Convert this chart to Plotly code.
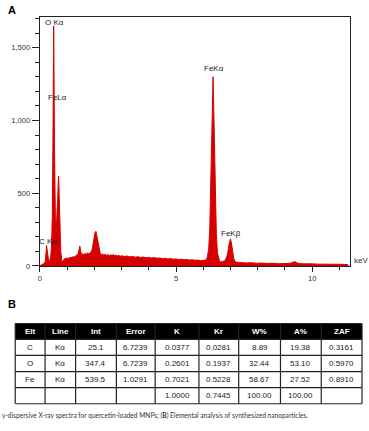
import plotly.graph_objects as go

# ---- Spectrum data ----
energy_kev = [0.00, 0.05, 0.10, 0.15, 0.20, 0.23, 0.25, 0.27, 0.30, 0.33, 0.36, 0.40, 0.43, 0.46,
              0.48, 0.50, 0.51, 0.52, 0.54, 0.56, 0.58, 0.60, 0.63, 0.66, 0.68, 0.69, 0.70, 0.72,
              0.74, 0.77, 0.80, 0.83, 0.87, 0.90, 0.95, 1.00, 1.05, 1.10, 1.15, 1.20, 1.25, 1.30,
              1.35, 1.40, 1.44, 1.47, 1.50, 1.54, 1.58, 1.62, 1.66, 1.70, 1.75, 1.80, 1.85, 1.90,
              1.94, 1.98, 2.02, 2.06, 2.10, 2.14, 2.18, 2.22, 2.26, 2.30, 2.35, 2.40, 2.45, 2.50,
              2.55, 2.60, 2.65, 2.70, 2.75, 2.80, 2.85, 2.90, 2.95, 3.00, 3.10, 3.20, 3.30, 3.40,
              3.50, 3.60, 3.70, 3.80, 3.90, 4.00, 4.10, 4.20, 4.30, 4.40, 4.50, 4.60, 4.70, 4.80,
              4.90, 5.00, 5.10, 5.20, 5.30, 5.40, 5.50, 5.60, 5.70, 5.80, 5.90, 6.00, 6.05, 6.10,
              6.15, 6.20, 6.24, 6.28, 6.32, 6.36, 6.40, 6.44, 6.48, 6.52, 6.56, 6.60, 6.65, 6.70,
              6.75, 6.80, 6.85, 6.90, 6.95, 7.00, 7.04, 7.08, 7.12, 7.16, 7.20, 7.30, 7.40, 7.50,
              7.60, 7.70, 7.80, 7.90, 8.00, 8.10, 8.20, 8.30, 8.40, 8.50, 8.60, 8.70, 8.80, 8.90,
              9.00, 9.10, 9.20, 9.30, 9.38, 9.45, 9.55, 9.70, 9.80, 9.90, 10.00, 10.20, 10.40,
              10.60, 10.80, 11.00, 11.20, 11.30, 11.32]
counts = [0, 8, 12, 14, 30, 90, 140, 110, 45, 28, 35, 60, 130, 350,
          800, 1400, 1650, 1400, 800, 380, 220, 235, 330, 480, 590, 617, 560, 420,
          240, 100, 45, 28, 38, 48, 52, 55, 50, 58, 56, 62, 60, 66,
          70, 80, 110, 136, 100, 78, 82, 76, 86, 80, 88, 82, 92, 100,
          130, 180, 225, 238, 200, 140, 100, 85, 78, 82, 74, 80, 72, 78,
          70, 76, 72, 78, 70, 74, 68, 72, 66, 70, 64, 68, 62, 65,
          60, 63, 58, 61, 56, 59, 54, 57, 52, 55, 50, 53, 48, 50,
          46, 48, 44, 46, 42, 44, 40, 42, 38, 40, 36, 38, 36, 40,
          60, 120, 260, 550, 950, 1300, 950, 520, 220, 90, 45, 30, 26, 28,
          30, 36, 55, 90, 150, 186, 150, 90, 50, 32, 26, 24, 22, 24,
          20, 22, 19, 21, 18, 20, 17, 19, 16, 18, 15, 17, 15, 16,
          14, 16, 18, 26, 28, 20, 15, 14, 15, 13, 14, 12, 13,
          11, 12, 11, 10, 9, 0]

# peak labels
peak_labels = ["O K\u03b1", "FeL\u03b1", "FeK\u03b1", "FeK\u03b2", "C K\u03b1"]
peak_label_x = [0.548, 0.650, 6.40, 7.02, 0.285]
peak_label_y = [1674, 1156, 1357, 226, 168]

# axis ticks
x_tickvals = [0, 5, 10]
x_ticktext = ["0", "5", "10"]
y_tickvals = [0, 500, 1000, 1500]
y_ticktext = ["0", "500", "1,000", "1,500"]

# ---- Table data ----
tbl_header = ["Elt", "Line", "Int", "Error", "K", "Kr", "W%", "A%", "ZAF"]
col_elt = ["C", "O", "Fe", ""]
col_line = ["K\u03b1", "K\u03b1", "K\u03b1", ""]
col_int = ["25.1", "347.4", "539.5", ""]
col_error = ["6.7239", "6.7239", "1.0291", ""]
col_k = ["0.0377", "0.2601", "0.7021", "1.0000"]
col_kr = ["0.0281", "0.1937", "0.5228", "0.7445"]
col_w = ["8.89", "32.44", "58.67", "100.00"]
col_a = ["19.38", "53.10", "27.52", "100.00"]
col_zaf = ["0.3161", "0.5970", "0.8910", ""]
table_columns = [col_elt, col_line, col_int, col_error, col_k, col_kr, col_w, col_a, col_zaf]

# table layout (pixels)
col_widths = [30, 30.7, 41, 39, 44, 40, 42, 41, 41]
TBL_LEFT, TBL_TOP = 13.3, 327.3
HEADER_H, ROW_H = 16, 16.3

W, H = 369, 431
RED = "#d60000"
FONT = "Liberation Sans, Arial"


def px(xp):
    return xp / W


def py(yp):
    return 1 - yp / H


fig = go.Figure()
fig.add_trace(go.Scatter(
    x=energy_kev, y=counts, mode="lines", fill="tozeroy",
    line=dict(color=RED, width=1), fillcolor=RED, hoverinfo="skip",
    showlegend=False))

axis_font = dict(family=FONT, size=7.6, color="#333")
fig.update_layout(
    width=W, height=H, margin=dict(l=0, r=0, t=0, b=0),
    paper_bgcolor="white", plot_bgcolor="white",
    showlegend=False,
    xaxis=dict(domain=[px(38), px(350)], range=[0, 11.39], showgrid=False, zeroline=False,
               showline=True, linecolor="#222", linewidth=1, mirror=True,
               ticks="outside", ticklen=5, tickcolor="#222", tickwidth=1,
               tickvals=x_tickvals, ticktext=x_ticktext, tickfont=axis_font,
               minor=dict(dtick=1, ticks="outside", ticklen=3, tickcolor="#222", showgrid=False)),
    yaxis=dict(domain=[py(269), py(17)], range=[0, 1713], showgrid=False, zeroline=False,
               showline=True, linecolor="#222", linewidth=1, mirror=True,
               ticks="outside", ticklen=7, tickcolor="#222", tickwidth=1,
               tickvals=y_tickvals, ticktext=y_ticktext, tickfont=axis_font,
               minor=dict(dtick=100, ticks="outside", ticklen=3.5, tickcolor="#222", showgrid=False)),
)

annotations = []
shapes = []
for t, x, y in zip(peak_labels, peak_label_x, peak_label_y):
    annotations.append(dict(x=x, y=y, xref="x", yref="y", text=t, showarrow=False,
                            font=dict(family=FONT, size=8, color="#222"),
                            xanchor="center", yanchor="middle"))

# ---- Table drawn from the data lists ----
col_edges = [TBL_LEFT]
for w in col_widths:
    col_edges.append(col_edges[-1] + w)
n_rows = len(col_elt)
row_edges = [TBL_TOP, TBL_TOP + HEADER_H]
for _ in range(n_rows):
    row_edges.append(row_edges[-1] + ROW_H)

# header background
shapes.append(dict(type="rect", xref="paper", yref="paper",
                   x0=px(col_edges[0]), x1=px(col_edges[-1]), y0=py(row_edges[1]), y1=py(row_edges[0]),
                   fillcolor="black", line=dict(width=0), layer="below"))
# grid lines
for xe in col_edges:
    shapes.append(dict(type="line", xref="paper", yref="paper", x0=px(xe), x1=px(xe),
                       y0=py(row_edges[-1]), y1=py(row_edges[0]), line=dict(color="#222", width=1.2)))
for ye in row_edges:
    shapes.append(dict(type="line", xref="paper", yref="paper", x0=px(col_edges[0]), x1=px(col_edges[-1]),
                       y0=py(ye), y1=py(ye), line=dict(color="#222", width=1.2)))

for ci, h in enumerate(tbl_header):
    cx = (col_edges[ci] + col_edges[ci + 1]) / 2
    cy = (row_edges[0] + row_edges[1]) / 2
    annotations.append(dict(x=px(cx), y=py(cy), xref="paper", yref="paper", text="<b>%s</b>" % h,
                            showarrow=False, font=dict(family=FONT, size=8, color="white"),
                            xanchor="center", yanchor="middle"))
for ci, col in enumerate(table_columns):
    cx = (col_edges[ci] + col_edges[ci + 1]) / 2
    for ri, v in enumerate(col):
        if not v:
            continue
        cy = (row_edges[ri + 1] + row_edges[ri + 2]) / 2
        annotations.append(dict(x=px(cx), y=py(cy), xref="paper", yref="paper", text=v,
                                showarrow=False, font=dict(family=FONT, size=8, color="#222"),
                                xanchor="center", yanchor="middle"))

annotations += [
    dict(x=px(352), y=py(264), xref="paper", yref="paper", text="keV", showarrow=False,
         font=dict(family=FONT, size=8, color="#333"), xanchor="left", yanchor="middle"),
    dict(x=px(4), y=py(10), xref="paper", yref="paper", text="<b>A</b>", showarrow=False,
         font=dict(family=FONT, size=11, color="black"), xanchor="left", yanchor="middle"),
    dict(x=px(4), y=py(308), xref="paper", yref="paper", text="<b>B</b>", showarrow=False,
         font=dict(family=FONT, size=11, color="black"), xanchor="left", yanchor="middle"),
    dict(x=0, y=py(420), xref="paper", yref="paper",
         text="y-dispersive X-ray spectra for quercetin-loaded MNPs; (<b>B</b>) Elemental analysis of synthesized nanoparticles.",
         showarrow=False, font=dict(family="Lato, Open Sans", size=6.6, color="#333"),
         xanchor="left", yanchor="middle", xshift=-2),
]
fig.update_layout(annotations=annotations, shapes=shapes)

fig.write_html("out.html")
